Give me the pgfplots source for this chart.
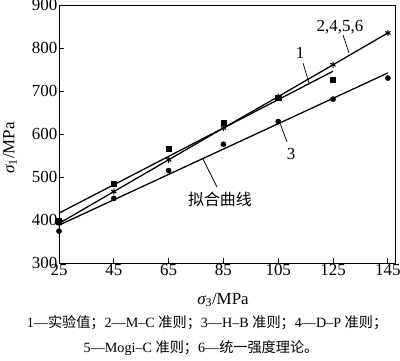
\documentclass[border=0pt]{standalone}
\usepackage{fontspec}
\setmainfont{Liberation Serif}
\newfontfamily\cjk{Noto Sans CJK SC}
\usepackage{pgfplots}
\pgfplotsset{compat=1.18}
\begin{document}
\begin{tikzpicture}[x=1bp,y=1bp]
\useasboundingbox (0,0) rectangle (400,361);
\begin{axis}[
  at={(59bp,98bp)}, anchor=south west, scale only axis,
  width=336bp, height=258bp,
  xmin=25, xmax=147.6, ymin=300, ymax=900,
  xtick={25,45,65,85,105,125,145}, ytick={300,400,500,600,700,800,900},
  tick align=inside, xtick pos=bottom, ytick pos=left,
  major tick length=5bp,
  tick label style={font=\fontsize{17}{19}\selectfont, inner sep=1.5bp},
  /pgf/number format/assume math mode=true,
  axis line style={line width=0.8bp},
  tick style={line width=0.8bp, black},
  clip=false,
]
\addplot[only marks, mark=square*, mark size=2.6bp] coordinates {(25,397)(45,485)(65,565)(85,626)(105,685)(125,727)};
\addplot[line width=1.3bp, mark=none] coordinates {(25,416)(125,746)};
\addplot[line width=1.3bp, mark=asterisk, mark size=3bp, mark options={line width=1.1bp}] coordinates {(25,392)(45,466)(65,540)(85,614)(105,687)(125,761)(145,835)};
\addplot[only marks, mark=*, mark size=2.6bp] coordinates {(25,374)(45,450)(65,515)(85,576)(105,629)(125,681)(145,730)};
\addplot[line width=1.3bp, mark=none] coordinates {(25,388)(145,742)};
\end{axis}
\node[rotate=90, font=\fontsize{17}{19}\selectfont] at (10,213) {{\itshape σ}\textsubscript{1}/MPa};
\node[font=\fontsize{17}{19}\selectfont] at (223,61) {{\itshape σ}\textsubscript{3}/MPa};
\node[font=\fontsize{17}{19}\selectfont] at (340,334) {2,4,5,6};
\draw[line width=0.7bp] (343,326) -- (349,308);
\node[font=\fontsize{17}{19}\selectfont] at (300,308) {1};
\draw[line width=0.7bp] (303,298) -- (309,278);
\node[font=\fontsize{17}{19}\selectfont] at (291,207) {3};
\draw[line width=0.7bp] (280,238) -- (287,219);
\node[font=\cjk\fontsize{16}{18}\selectfont] at (220,162) {拟合曲线};
\draw[line width=0.7bp] (203,202) -- (217,174);
\node[font=\fontsize{14.2}{16}\selectfont] at (207,38) {1—{\cjk 实验值；}2—M–C {\cjk 准则；}3—H–B {\cjk 准则；}4—D–P {\cjk 准则；}};
\node[font=\fontsize{14.2}{16}\selectfont] at (201,13) {5—Mogi–C {\cjk 准则；}6—{\cjk 统一强度理论。}};
\end{tikzpicture}
\end{document}
